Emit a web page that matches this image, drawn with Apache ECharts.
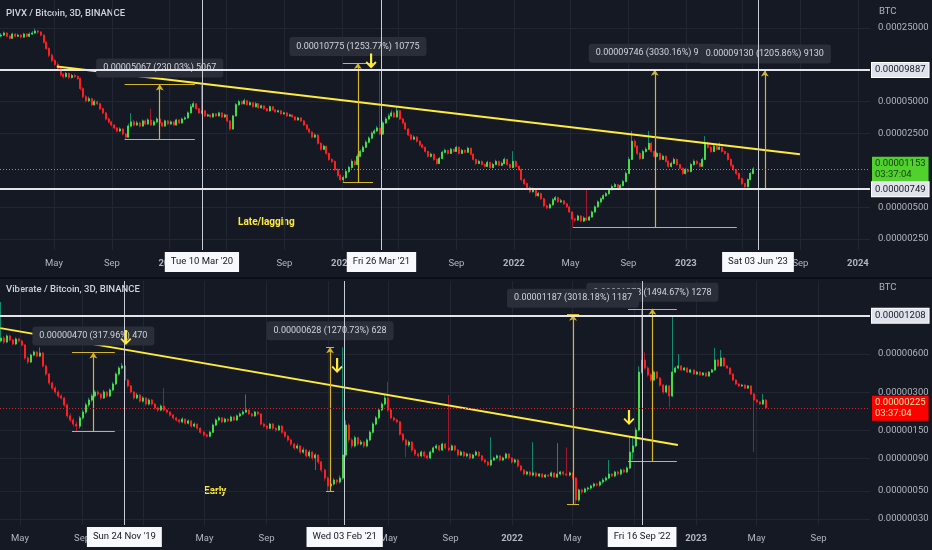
<!DOCTYPE html>
<html>
<head>
<meta charset="utf-8">
<title>PIVX / Viberate vs BTC</title>
<script src="https://cdn.jsdelivr.net/npm/echarts/dist/echarts.min.js"></script>
<style>
html,body{margin:0;padding:0;background:#151924;}
#chart{width:932px;height:550px;}
</style>
</head>
<body>
<div id="chart"></div>
<script>
// ================= DATA (prices in satoshis) =================
const CANDLE_DAYS = 6;

const pivxStart = '2019-01-09';
const pivxFirstOpen = 21000;
const pivxClose = [
21400,22400,20900,20000,21900,20900,21400,20500,21900,20900,
21900,22400,23400,22900,21400,18300,16000,13800,12300,11300,
10350,9060,8670,9270,8490,8870,8670,8300,6650,5580,
5110,5330,4680,5000,4780,4290,3920,3430,3220,3010,
2820,2640,2760,2470,2310,2940,3220,3010,3150,2940,
3290,3080,3360,3010,3220,3430,3150,2940,3290,3080,
3220,3010,3360,3150,3430,3510,3920,4480,4780,4290,
3920,4100,3670,3750,3590,3840,3670,3920,3590,3750,
3290,2760,3670,4680,5000,4780,5110,4680,4890,4480,
4780,4380,4570,4290,4100,4480,4190,4010,4100,3840,
3920,3670,3750,3590,3360,3510,3290,3010,2760,2580,
2310,2420,2020,1770,1890,1620,1420,1360,1140,1000,
914,955,1090,1190,1360,1270,1520,1690,1850,2070,
2260,2520,2640,2820,2470,3150,3430,3670,3920,3590,
4100,3430,3150,2760,2420,2210,2310,2110,1940,1850,
1690,1520,1590,1420,1300,1450,1660,1730,1620,1770,
1690,1850,1620,1730,1660,1810,1590,1420,1300,1360,
1270,1220,1330,1190,1270,1360,1250,1300,1420,1270,
1190,1360,1220,1140,914,837,767,701,733,643,
672,601,515,493,527,589,615,562,575,538,
504,451,387,378,413,370,395,378,404,451,
504,562,601,643,672,733,783,818,767,801,
875,1045,1420,2110,1890,1620,1450,1690,1770,2020,
1690,1520,1620,1420,1520,1360,1220,1300,1420,1270,
1170,1045,1140,1090,1270,1360,1300,1220,1420,1980,
1850,1690,1890,1770,1850,1690,1620,1420,1250,1140,
1045,935,837,783,914,1045,1153
];
const pivxHigh = [
22400,23200,22900,21400,22600,22400,22100,21900,22500,22400,
22700,23400,24600,24000,23300,21800,18700,16400,14300,12800,
11800,10700,9400,9600,9500,9200,9200,8900,8500,6900,
5800,5600,5450,5250,5150,4900,4400,4000,3550,3300,
3080,2900,2850,2820,2520,3100,3900,3350,3300,3250,
3400,3400,3500,4300,3350,3560,3520,3220,3380,3360,
3320,3280,3450,3420,3530,3640,4050,4750,5050,4880,
4380,7270,4180,3860,3820,3920,3900,4020,3980,3850,
3800,3350,3750,4850,5200,5150,5350,5200,5050,4950,
4950,4850,4700,4620,4350,4600,4550,4250,4200,4150,
4020,3980,3850,3800,3640,3600,3560,3340,3060,2800,
2620,2500,2460,2060,1960,1920,1650,1460,1390,1170,
1030,1000,1130,1240,1420,1400,1600,1760,1930,2150,
2350,2620,2760,2950,9700,3300,3580,3850,4150,4050,
4450,4200,3520,3200,2820,2480,2400,2360,2150,1990,
1880,1720,1650,1620,1450,1500,1720,1800,1760,1830,
1800,1920,1880,1790,1760,1880,1840,1620,1450,1410,
1390,1300,1380,1350,1320,1410,1380,1350,1480,1440,
1300,1700,1390,1240,1160,940,860,790,770,750,
700,690,615,530,545,610,640,630,600,585,
550,515,460,400,425,420,410,760,415,465,
520,580,620,665,700,760,820,850,830,830,
910,1090,1500,2640,2200,1950,1660,1760,1850,2640,
2080,1740,1680,1650,1580,1550,1390,1350,1480,1450,
1290,1190,1180,1160,1320,1420,1400,1330,1480,2360,
2100,1900,1960,2000,2050,1880,1720,1650,1450,1270,
1160,1060,950,850,940,1080,1200
];
const pivxLow = [
20500,21000,20400,19500,19700,20300,20500,19900,20200,20400,
20500,21500,22000,22100,20800,17800,15500,13200,11800,10900,
9900,8700,8300,8450,8200,8300,8400,8000,6400,5400,
4900,4950,4550,4600,4650,4150,3800,3330,3120,2900,
2740,2560,2580,2400,2203,2280,2880,2920,2950,2860,
2900,3000,3020,2940,2960,3150,3080,2870,2900,3000,
3020,2940,2980,3080,3100,3360,3460,3880,4400,4200,
3850,3800,3560,3600,3520,3540,3600,3620,3500,3520,
3200,2650,2720,3620,4600,4650,4700,4600,4600,4400,
4420,4300,4320,4200,4020,4050,4120,3940,3950,3760,
3780,3600,3610,3520,3300,3320,3220,2950,2700,2500,
2250,2260,1960,1720,1740,1570,1380,1310,1100,960,
880,859,930,1060,1160,1230,1250,1490,1660,1820,
2020,2200,2460,2580,2400,2420,3080,3380,3600,3500,
3520,3350,3060,2680,2360,2150,2160,2050,1880,1800,
1640,1480,1480,1380,1260,1280,1420,1630,1580,1600,
1650,1670,1580,1600,1620,1640,1550,1380,1260,1280,
1240,1190,1200,1160,1170,1250,1220,1230,1280,1240,
1160,1170,1190,1110,880,810,740,680,690,620,
630,585,500,475,485,520,575,550,550,525,
490,440,322,360,370,360,362,368,372,398,
445,495,550,590,630,660,720,770,750,755,
790,860,1030,1400,1820,1560,1400,1420,1650,1740,
1640,1480,1490,1380,1400,1320,1180,1190,1280,1240,
1140,1010,1020,1060,1070,1240,1260,1190,1200,1400,
1800,1640,1660,1720,1740,1650,1580,1380,1210,1100,
1010,905,810,757,770,900,1030
];

const vibStart = '2019-03-24';
const vibFirstOpen = 760;
const vibClose = [
802,746,832,774,720,788,760,706,558,519,
589,622,578,611,483,417,354,323,301,280,
270,238,195,181,168,162,188,209,238,260,
280,301,290,270,301,280,312,348,417,465,
483,374,336,301,270,285,255,270,242,260,
242,225,217,233,217,209,198,188,181,175,
184,171,178,162,168,156,145,138,135,145,
165,181,188,175,184,178,191,181,195,202,
209,217,202,195,209,202,168,162,156,168,
156,151,162,145,135,126,117,109,113,101,
105,94.3,101,90.8,95.8,84.4,73,63.1,54.6,56.6,
60.8,58.7,63.1,95.8,165,126,113,131,117,121,
113,126,145,168,188,217,242,270,217,188,
181,175,140,126,115,121,105,97.6,94.3,101,
94.3,90.8,101,109,113,105,117,109,105,113,
105,95.8,101,94.3,97.6,90.8,95.8,101,94.3,87.5,
84.4,80,87.5,90.8,94.3,87.5,90.8,97.6,90.8,84.4,
87.5,78.6,73,67.9,70.4,66.6,69.2,65.5,67.9,64.3,
66.6,65.5,69.2,64.3,67.9,70.4,67.9,66.6,69.2,63.1,
42.3,50.8,49,51.8,52.6,54.6,56.6,55.6,58.7,60.8,
63.1,67.9,65.5,70.4,67.9,73,70.4,75.7,101,113,
151,432,538,465,410,374,432,388,341,301,
336,280,432,465,483,449,465,432,449,417,
432,410,425,402,432,449,538,483,558,483,
465,417,374,348,336,341,323,336,290,260,
251,242,260,225
];
const vibHigh = [
1543,830,860,850,790,810,805,775,720,575,
605,640,635,677,620,495,425,365,335,310,
290,276,244,205,188,176,195,218,248,272,
292,312,310,296,312,306,322,360,430,480,
509,490,382,342,306,296,290,279,274,268,
265,246,230,240,323,221,212,201,192,185,
190,187,183,180,173,170,158,148,141,149,
170,186,194,191,189,187,196,194,200,208,
216,288,221,206,214,212,205,172,165,172,
171,159,166,165,148,138,129,120,118,115,
110,107,105,103,99,97,86,75,65,59,
63,62,66,677,180,170,130,136,134,126,
124,130,150,174,195,225,250,290,361,222,
192,185,178,143,129,125,124,108,100,104,
103,97,104,112,117,115,120,119,285,116,
115,107,104,103,100,99,98,104,103,96,
89,86,132,93,97,96,93,100,99,92,
90,89,80,74,72,72,121,71,69,69,
68,68,71,70,119,72,72,110,71,70,
64,52,52,53,54,56,58,58,60,63,
65,87.5,69,72,72,75,75,78,132,133,
158,480,1363,620,480,420,445,440,395,348,
345,342,1218,480,600,490,475,470,458,455,
440,438,432,430,440,458,670,545,645,565,
490,470,420,378,352,346,345,340,340,295,
265,255,291,264
];
const vibLow = [
740,720,730,755,700,705,740,690,540,500,
510,575,565,568,470,405,340,312,290,270,
262,230,188,174,160,148,155,182,202,230,
252,272,280,262,265,272,274,305,340,405,
455,365,326,292,262,264,248,248,235,236,
235,218,210,212,210,203,192,182,176,170,
171,166,167,157,158,151,141,134,131,132,
143,162,177,171,172,174,175,177,178,191,
198,205,198,190,192,197,164,157,151,153,
151,146,148,141,131,122,113,105,106,97,
98,91,91,87,73,81,70,60,49.4,52,
55,56,57,61,92,120,108,110,113,114,
109,110,123,142,164,184,212,236,210,183,
176,170,136,122,92,111,101,94,91,92,
91,88,89,99,106,102,103,106,102,103,
102,93,94,92,92,88,89,94,92,85,
82,78,78,86,89,85,86,89,88,82,
82,76,71,66,66,65,65,64,64,63,
63,64,64,63,63,66,66,65,65,61,
39.3,41,47,48,50,51,53,54,54,57,
59,62,64,64,66,66,69,69,74,88,
110,148,420,450,398,362,368,378,330,290,
292,228,275,425,455,440,442,425,426,410,
410,404,404,396,398,426,444,475,478,475,
458,410,368,342,330,330,318,318,284,101,
246,238,238,221
];

// axis ticks
const topXTicks = ['2019-05-01','2019-09-01','2020-01-01','2020-05-01','2020-09-01','2021-01-01','2021-05-01','2021-09-01','2022-01-01','2022-05-01','2022-09-01','2023-01-01','2023-05-01','2023-09-01','2024-01-01'];
const botXTicks = ['2019-05-01','2019-09-01','2020-01-01','2020-05-01','2020-09-01','2021-01-01','2021-05-01','2021-09-01','2022-01-01','2022-05-01','2022-09-01','2023-01-01','2023-05-01','2023-09-01'];
const topYTicks = [0.00025, 0.00005, 0.000025, 0.000005, 0.0000025];
const botYTicks = [0.000006, 0.000003, 0.0000015, 0.0000009, 0.0000005, 0.0000003];

// annotations (data space: dates and satoshis)
const topHLines = [9887, 749];
const botHLines = [1208];
const topVLines = ['2020-03-10', '2021-03-26', '2023-06-03'];
const botVLines = ['2019-11-24', '2021-02-03', '2022-09-16'];
const topTrendDates = ['2019-05-07', '2023-08-31'];
const topTrendValues = [10810, 1588];
const botTrendDates = ['2019-03-23', '2022-11-26'];
const botTrendValues = [960, 115];

const topMeasureStart = ['2019-09-28', '2021-01-03', '2022-05-06', '2023-04-19'];
const topMeasureEnd   = ['2020-02-24', '2021-03-08', '2023-04-19', '2023-08-16'];
const topMeasureDelta = [5067, 10775, 9746, 9130];
const topMeasurePct   = [230.03, 1253.77, 3030.16, 1205.86];

const botMeasureStart = ['2019-08-12', '2020-12-28', '2022-08-19', '2022-04-20'];
const botMeasureEnd   = ['2019-11-05', '2021-01-13', '2022-11-24', '2022-05-14'];
const botMeasureDelta = [470, 628, 1278, 1187];
const botMeasurePct   = [317.96, 1270.73, 1494.67, 3018.18];

const topArrowDates = ['2021-03-04'];
const topArrowValues = [10350];
const botArrowDates = ['2019-11-27', '2021-01-19', '2022-08-21'];
const botArrowValues = [706, 425, 165];

const countdown = '03:37:04';

// ================= HELPERS =================
const DAY = 86400000;
const T = s => Date.parse(s.length === 10 ? s + 'T00:00:00Z' : s);
const L = sats => Math.log10(sats) - 8;           // satoshis -> log10(BTC)
const btc = sats => (sats / 1e8).toFixed(8);
const WD = ['Sun','Mon','Tue','Wed','Thu','Fri','Sat'];
const MN = ['Jan','Feb','Mar','Apr','May','Jun','Jul','Aug','Sep','Oct','Nov','Dec'];
const dateText = s => { const d = new Date(T(s)); return WD[d.getUTCDay()] + ' ' + String(d.getUTCDate()).padStart(2,'0') + ' ' + MN[d.getUTCMonth()] + " '" + String(d.getUTCFullYear()).slice(2); };

// full candles (used for wicks) and body-only candles (drawn on top)
function candles(start, firstOpen, closes, highs, lows, bodyOnly) {
  const t0 = T(start);
  return closes.map((c, i) => {
    const o = i === 0 ? firstOpen : closes[i - 1];
    const lo = bodyOnly ? Math.min(o, c) : lows[i];
    const hi = bodyOnly ? Math.max(o, c) : highs[i];
    return [t0 + i * CANDLE_DAYS * DAY, L(o), L(c), L(lo), L(hi)];
  });
}

const BG = '#151924';
const GRID = '#222633';
const AXIS_TXT = '#b2b5be';
const YELLOW = '#ffeb3b';
const MEASURE = '#d6b52a';
const FONT = 'Roboto, "Liberation Sans", sans-serif';

function hLine(v) {
  return { yAxis: L(v), lineStyle: { color: '#e3e5ea', width: 2, type: 'solid' },
    label: { show: true, position: 'end', distance: 2, formatter: btc(v), color: '#131722',
      backgroundColor: '#e0e3eb', borderColor: '#ffffff', borderWidth: 1, padding: [2, 3], fontSize: 9.5, fontFamily: FONT } };
}
function vLine(s) {
  return { xAxis: T(s), lineStyle: { color: '#c9ccd4', width: 1, type: 'solid' },
    label: { show: true, position: 'start', distance: 2, formatter: dateText(s), color: '#131722',
      backgroundColor: '#f8f9fd', padding: [5, 6], fontSize: 9.5, fontFamily: FONT } };
}
function lastLine(sats, bg, fg, lineColor) {
  return { yAxis: L(sats), lineStyle: { color: lineColor, width: 1, type: [1, 2] },
    label: { show: true, position: 'end', distance: 2, backgroundColor: bg, padding: [2, 3],
      formatter: '{a|' + btc(sats) + '}\n{a|' + countdown + '}',
      rich: { a: { color: fg, fontSize: 9.5, lineHeight: 10.5, fontFamily: FONT } } } };
}
const ARROW = 'path://M4.8,0 L7.2,0 L7.2,11.6 L10.6,8.2 L12,9.6 L6,15.6 L0,9.6 L1.4,8.2 L4.8,11.6 Z';
function arrows(dates, values) {
  return dates.map((d, i) => ({ coord: [T(d), L(values[i])], symbol: ARROW, symbolSize: [11, 15],
    symbolOffset: [0, '-50%'], itemStyle: { color: YELLOW } }));
}

// trend line + price-range (measure) tools drawn as 'lines' series in the pane's cartesian
function annotationSeries(idx, trendDates, trendValues, starts, ends, deltas, pcts) {
  const bars = [], stems = [];
  starts.forEach((s, k) => {
    const low = deltas[k] / (pcts[k] / 100), high = low + deltas[k];
    const ts = T(s), te = T(ends[k]), tm = (ts + te) / 2;
    bars.push({ coords: [[ts, L(low)], [te, L(low)]] });
    bars.push({ coords: [[ts, L(high)], [te, L(high)]] });
    stems.push({ name: btc(deltas[k]) + ' (' + pcts[k].toFixed(2) + '%) ' + deltas[k],
      coords: [[tm, L(low)], [tm, L(high)]] });
  });
  const base = { type: 'lines', coordinateSystem: 'cartesian2d', xAxisIndex: idx, yAxisIndex: idx,
    silent: true, animation: false, polyline: false, z: 4 };
  return [
    Object.assign({}, base, { symbol: 'none', lineStyle: { color: YELLOW, width: 2, opacity: 1, curveness: 0 },
      data: [{ coords: [[T(trendDates[0]), L(trendValues[0])], [T(trendDates[1]), L(trendValues[1])]] }] }),
    Object.assign({}, base, { symbol: 'none', lineStyle: { color: MEASURE, width: 1.2, opacity: 1, curveness: 0 }, data: bars }),
    Object.assign({}, base, { symbol: ['none', 'arrow'], symbolSize: 6,
      lineStyle: { color: MEASURE, width: 1.2, opacity: 1, curveness: 0 },
      label: { show: true, position: 'end', distance: 7, formatter: '{b}', color: '#d1d4dc',
        backgroundColor: '#2a2e39', borderRadius: 3, padding: [5, 7], fontSize: 9, fontFamily: FONT },
      data: stems })
  ];
}

function xAxisCfg(grid, min, max, ticks) {
  const ms = ticks.map(T);
  return {
    type: 'value', gridIndex: grid, min: T(min), max: T(max), scale: true,
    axisLine: { show: false }, axisTick: { show: false, customValues: ms },
    axisLabel: { customValues: ms, margin: 9, color: AXIS_TXT, fontSize: 9.5, fontFamily: FONT,
      formatter: v => { const d = new Date(v); return d.getUTCMonth() === 0 ? '{y|' + d.getUTCFullYear() + '}' : MN[d.getUTCMonth()]; },
      rich: { y: { color: AXIS_TXT, fontSize: 9.5, fontWeight: 'bold', fontFamily: FONT } } },
    splitLine: { show: true, lineStyle: { color: GRID, width: 1 } }
  };
}
function yAxisCfg(grid, min, max, ticks) {
  const lv = ticks.map(t => Math.log10(t));
  return {
    type: 'value', gridIndex: grid, position: 'right', min: min, max: max, scale: true,
    axisLine: { show: false }, axisTick: { show: false, customValues: lv },
    axisLabel: { customValues: lv, margin: 8, color: AXIS_TXT, fontSize: 9.5, fontFamily: FONT,
      formatter: v => Math.pow(10, v).toFixed(8) },
    splitLine: { show: true, lineStyle: { color: GRID, width: 1 } }
  };
}
const wickStyle = { color: '#138a6c', color0: '#a3182a', borderColor: '#138a6c', borderColor0: '#a3182a', borderWidth: 1 };
const bodyStyle = { color: '#45dc45', color0: '#ff1f1f', borderColor: '#45dc45', borderColor0: '#ff1f1f', borderWidth: 1 };

function paneSeries(idx, start, firstOpen, closes, highs, lows, markLineData, arrowData) {
  return [
    { type: 'candlestick', xAxisIndex: idx, yAxisIndex: idx, barWidth: 1.5, clip: true,
      encode: { x: 0, y: [1, 2, 3, 4] }, itemStyle: wickStyle,
      data: candles(start, firstOpen, closes, highs, lows, false) },
    { type: 'candlestick', xAxisIndex: idx, yAxisIndex: idx, barWidth: 1.5, clip: true,
      encode: { x: 0, y: [1, 2, 3, 4] }, itemStyle: bodyStyle,
      data: candles(start, firstOpen, closes, highs, lows, true),
      markLine: { silent: true, animation: false, symbol: ['none', 'none'], label: { show: false }, data: markLineData },
      markPoint: { silent: true, animation: false, label: { show: false }, data: arrowData } }
  ];
}

const chart = echarts.init(document.getElementById('chart'), null, { renderer: 'canvas' });
chart.setOption({
  backgroundColor: BG,
  animation: false,
  textStyle: { fontFamily: FONT },
  grid: [
    { left: 0, top: 0, width: 870, height: 250 },
    { left: 0, top: 281, width: 870, height: 244 }
  ],
  xAxis: [
    xAxisCfg(0, '2019-01-06T12:00:00Z', '2024-01-26T17:00:00Z', topXTicks),
    xAxisCfg(1, '2019-03-22T07:00:00Z', '2023-12-12T02:00:00Z', botXTicks)
  ],
  yAxis: [
    yAxisCfg(0, -5.70632, -3.33666, topYTicks),
    yAxisCfg(1, -6.57043, -4.64614, botYTicks)
  ],
  series: [
    ...paneSeries(0, pivxStart, pivxFirstOpen, pivxClose, pivxHigh, pivxLow, [
      ...topVLines.map(vLine),
      lastLine(pivxClose[pivxClose.length - 1], '#51d12e', '#173d12', '#3ec83e'),
      ...topHLines.map(hLine)
    ], arrows(topArrowDates, topArrowValues)),
    ...annotationSeries(0, topTrendDates, topTrendValues, topMeasureStart, topMeasureEnd, topMeasureDelta, topMeasurePct),
    ...paneSeries(1, vibStart, vibFirstOpen, vibClose, vibHigh, vibLow, [
      ...botVLines.map(vLine),
      lastLine(vibClose[vibClose.length - 1], '#ff0000', '#f3e7a6', '#d0242a'),
      ...botHLines.map(hLine)
    ], arrows(botArrowDates, botArrowValues)),
    ...annotationSeries(1, botTrendDates, botTrendValues, botMeasureStart, botMeasureEnd, botMeasureDelta, botMeasurePct)
  ],
  graphic: [
    { type: 'rect', left: 0, top: 277, shape: { width: 932, height: 2 }, style: { fill: '#0c0e15' }, silent: true },
    { type: 'text', left: 6, top: 9, style: { text: 'PIVX / Bitcoin, 3D, BINANCE', fill: '#d1d4dc', font: '500 9.5px ' + FONT } },
    { type: 'text', left: 6, top: 285, style: { text: 'Viberate / Bitcoin, 3D, BINANCE', fill: '#d1d4dc', font: '500 9.5px ' + FONT } },
    { type: 'text', left: 879, top: 7, style: { text: 'BTC', fill: AXIS_TXT, font: '9.5px ' + FONT } },
    { type: 'text', left: 879, top: 283, style: { text: 'BTC', fill: AXIS_TXT, font: '9.5px ' + FONT } },
    { type: 'text', left: 238, top: 217, style: { text: 'Late/lagging', fill: YELLOW, font: 'bold 10px ' + FONT } },
    { type: 'text', left: 204, top: 486, style: { text: 'Early', fill: YELLOW, font: 'bold 10px ' + FONT } }
  ]
});
</script>
</body>
</html>
